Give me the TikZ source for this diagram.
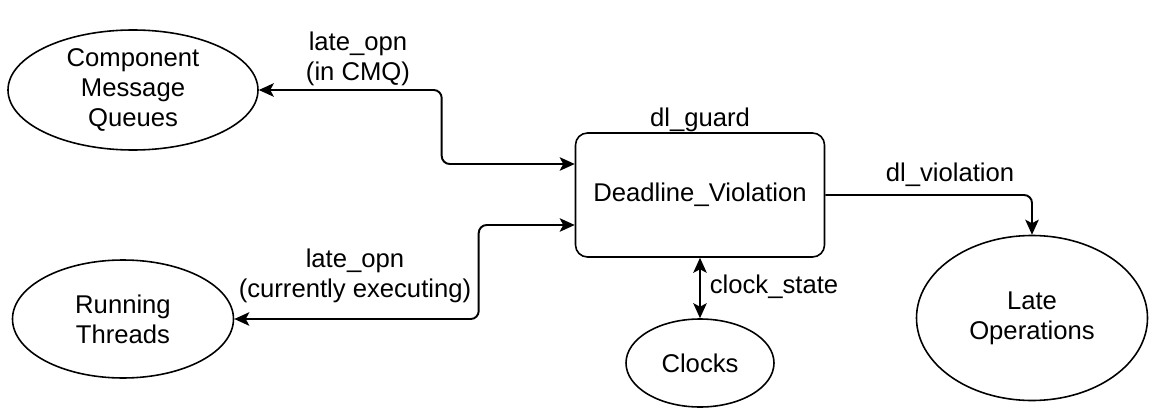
\documentclass[tikz,border=0pt]{standalone}
\usepackage{fontspec}
\setmainfont{Liberation Sans}
\usepackage{tikz}
\usetikzlibrary{arrows.meta,positioning,shapes.geometric}
\tikzstyle{store}=[draw, ellipse, line width=0.9pt, align=center, inner sep=0pt]
\tikzstyle{proc}=[draw, rectangle, rounded corners=0.24cm, line width=0.9pt, align=center, minimum width=4.98cm, minimum height=2.48cm]
\tikzstyle{lbl}=[align=center, inner sep=1pt]
\tikzstyle{flow}=[line width=1.1pt, rounded corners=0.16cm, >={Stealth[length=0.3cm,width=0.27cm,inset=0.07cm]}]

\begin{document}
\begin{tikzpicture}[font=\fontsize{14.6}{17.2}\selectfont]
		    \useasboundingbox (0,0) rectangle (22.98,8.22);
		    \node [proc] (dv) at (14.0,4.32) {Deadline\_Violation};
		    \node [store, minimum width=5.0cm, minimum height=2.4cm] (cmq) at (2.66,6.42) {Component\\Message\\Queues};
		    \node [store, minimum width=4.42cm, minimum height=2.36cm] (rt) at (2.46,1.84) {Running\\Threads};
		    \node [store, minimum width=2.96cm, minimum height=1.76cm] (clk) [below of=dv, node distance=3.36cm] {Clocks};
		    \node [store, minimum width=4.62cm, minimum height=3.3cm] (late) at (20.64,1.86) {Late\\Operations};
		    \node [lbl] (guard) [above=-0.04cm of dv] {dl\_guard};
		    \node [lbl] (lcmq) at (7.16,7.04) {late\_opn\\(in CMQ)};
		    \node [lbl] (lrt) at (7.10,2.70) {late\_opn\\(currently executing)};
		    \node [lbl] (lclk) at (15.48,2.48) {clock\_state};
		    \node [lbl] (lviol) at (19.0,4.72) {dl\_violation};
		    \draw[flow, <->] ([yshift=0.62cm]dv.west) -- ++(-2.66,0) |- (cmq.east);
		    \draw[flow, <->] ([yshift=-0.6cm]dv.west) -- ++(-1.92,0) |- (rt.east);
		    \draw[flow, <->] (dv.south) -- (clk.north);
		    \draw[flow, ->] (dv.east) -| (late.north);
		\end{tikzpicture}
\end{document}
